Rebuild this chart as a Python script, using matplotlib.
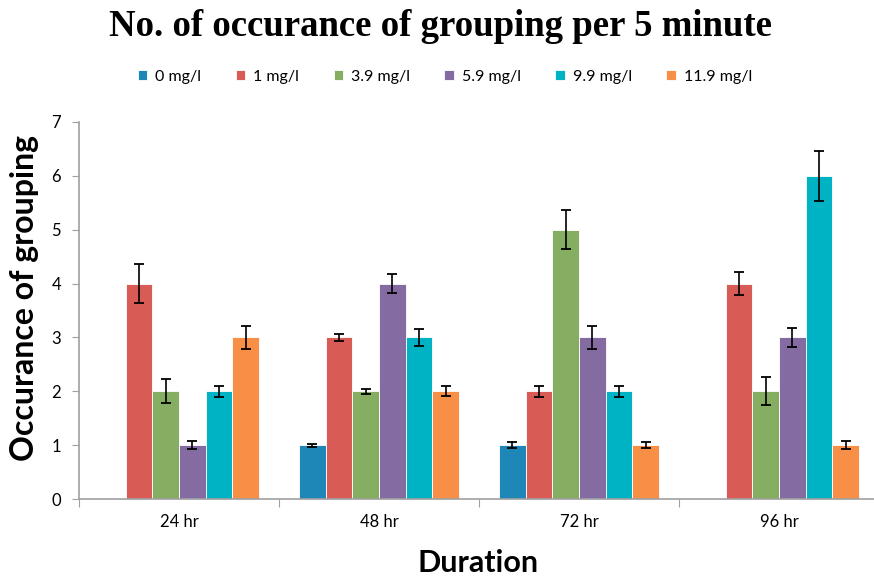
import numpy as np
import matplotlib
matplotlib.use("Agg")
import matplotlib.pyplot as plt

# ---------- data ----------
durations = ["24 hr", "48 hr", "72 hr", "96 hr"]
series = ["0 mg/l", "1 mg/l", "3.9 mg/l", "5.9 mg/l", "9.9 mg/l", "11.9 mg/l"]
colors = ["#1F86B8", "#D95B55", "#86AE62", "#846CA2", "#00B3C4", "#F78F46"]

# values per series (one entry per duration)
conc_0 = [0, 1, 1, 0]
conc_1 = [4, 3, 2, 4]
conc_3_9 = [2, 2, 5, 2]
conc_5_9 = [1, 4, 3, 3]
conc_9_9 = [2, 3, 2, 6]
conc_11_9 = [3, 2, 1, 1]

err_0 = [0, 0.03, 0.06, 0]
err_1 = [0.36, 0.07, 0.10, 0.22]
err_3_9 = [0.22, 0.05, 0.36, 0.26]
err_5_9 = [0.08, 0.18, 0.21, 0.18]
err_9_9 = [0.10, 0.16, 0.10, 0.47]
err_11_9 = [0.21, 0.09, 0.06, 0.07]

values = [conc_0, conc_1, conc_3_9, conc_5_9, conc_9_9, conc_11_9]
errors = [err_0, err_1, err_3_9, err_5_9, err_9_9, err_11_9]
# ---------------------------

SANS = "Lato"
fig = plt.figure(figsize=(8.74, 5.77), dpi=100)
ax = fig.add_axes([79 / 874, 78 / 577, 800 / 874, 377 / 577])

x = np.arange(len(durations))
n = len(series)
w = 1 / 7.5
for i, (name, vals, errs, c) in enumerate(zip(series, values, errors, colors)):
    pos = x + (i - (n - 1) / 2) * w
    ax.bar(pos, vals, width=w, color=c, edgecolor="white", linewidth=0.6, label=name, zorder=2)
    vals_a = np.array(vals, dtype=float)
    mask = vals_a > 0
    ax.errorbar(pos[mask], vals_a[mask], yerr=np.array(errs)[mask], fmt="none",
                ecolor="black", elinewidth=1.2, capsize=3.4, capthick=1.3, zorder=3)

ax.set_xlim(-0.5, 3.5)
ax.set_ylim(0, 7)
ax.set_yticks(range(0, 8))
ax.tick_params(axis="y", direction="out", length=5, color="#A0A0A0", labelsize=12, pad=8)
for lab in ax.get_yticklabels():
    lab.set_fontfamily(SANS)

# boundary ticks (major, no labels) + category labels (minor, no tick)
ax.set_xticks([-0.5, 0.5, 1.5, 2.5, 3.5])
ax.set_xticklabels([])
ax.set_xticks(x, minor=True)
ax.set_xticklabels(durations, minor=True, fontsize=12, fontfamily=SANS)
ax.tick_params(axis="x", which="major", direction="out", length=6, color="#A0A0A0")
ax.tick_params(axis="x", which="minor", length=0, pad=11)

for s in ["top", "right"]:
    ax.spines[s].set_visible(False)
for s in ["left", "bottom"]:
    ax.spines[s].set_color("#A0A0A0")
    ax.spines[s].set_linewidth(1.2)

fig.text(25 / 874, 1 - 298 / 577, "Occurance of grouping", rotation=90, ha="center", va="center",
         fontsize=23, fontweight="bold", fontfamily=SANS)
fig.text(478 / 874, 1 - 563 / 577, "Duration", ha="center", va="center",
         fontsize=22, fontweight="bold", fontfamily=SANS)
fig.text(440 / 874, 1 - 27 / 577, "No. of occurance of grouping per 5 minute", ha="center", va="center",
         fontsize=26.5, fontweight="bold", fontfamily="Liberation Serif")

fig.legend(loc="center", bbox_to_anchor=(445 / 874, 1 - 77 / 577), ncol=6, frameon=False,
           prop={"family": SANS, "size": 11.5}, handlelength=0.6, handleheight=0.6,
           handletextpad=0.5, columnspacing=2.15)

fig.savefig("out.png", dpi=100)
